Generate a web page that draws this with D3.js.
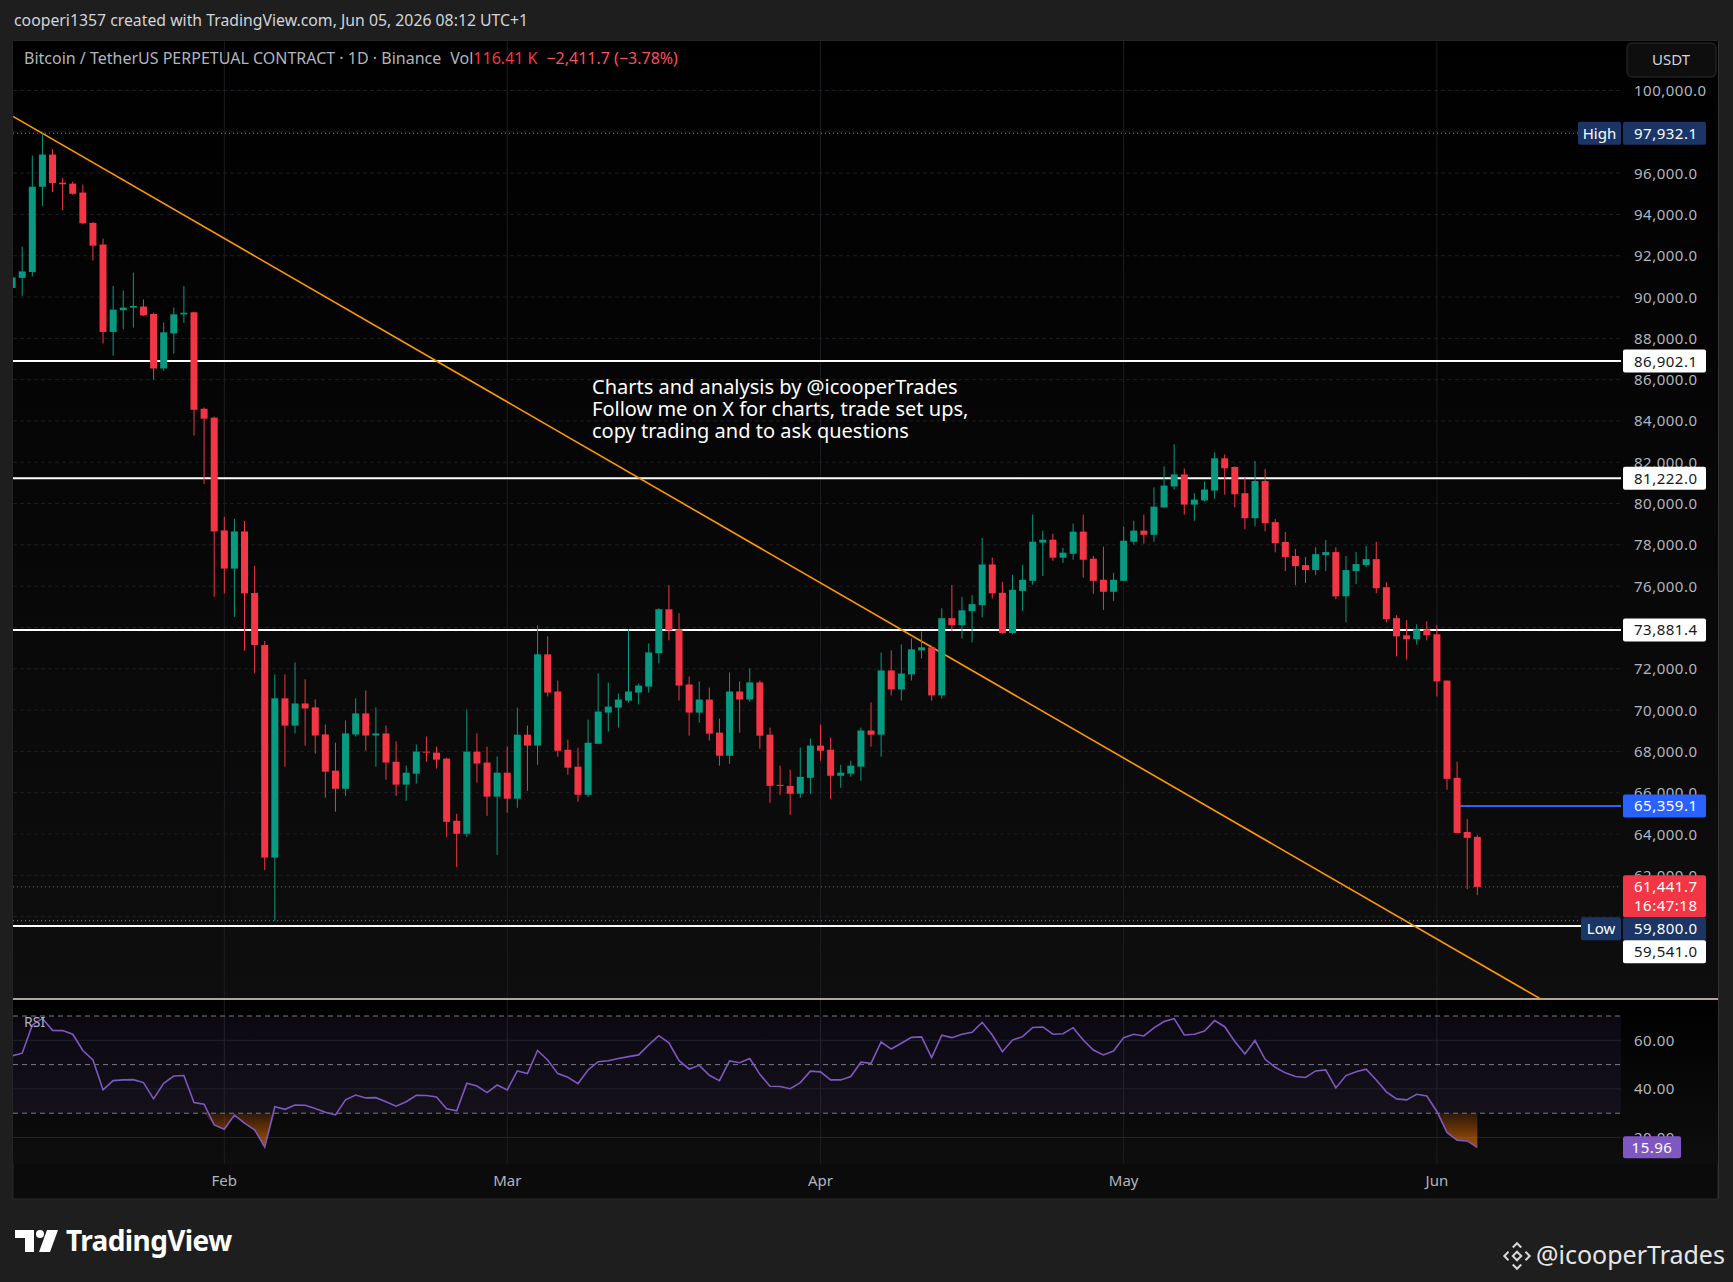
<!DOCTYPE html>
<html>
<head>
<meta charset="utf-8">
<script src="https://cdn.jsdelivr.net/npm/d3@7"></script>
<style>
  html, body { margin: 0; padding: 0; background: #1e1e1e; }
  svg { display: block; font-family: "Noto Sans", Roboto, sans-serif; }
</style>
</head>
<body>
<div id="grafica"></div>
<script>
// --- Datos
const firstDay = '2026-01-11'
const lastDay = '2026-06-05'

const open = [90440,90930,91210,95340,96900,95540,95490,95060,93590,92540,
  88310,89360,89490,89540,89180,86540,88240,89160,89260,84590,
  84160,78700,76850,78650,75670,73150,62860,70570,69250,70320,
  70130,68820,67070,66190,68820,69840,68770,68870,67500,66390,
  66920,67990,67940,67650,64640,64010,67990,67460,65810,66970,
  65710,68810,68280,72700,70900,68080,67260,65900,68370,69880,
  70120,70460,70850,71140,72750,74880,73910,71240,69880,70510,
  68910,67790,70900,70510,71340,68810,66380,66330,65950,66720,
  68280,68080,66820,66920,67260,69010,68810,71920,71000,71730,
  72890,73040,70710,74450,74110,74790,75080,77050,75680,73730,
  75770,76260,78110,78250,77380,77570,78640,77330,76310,75730,
  76260,78150,78690,78490,79810,80830,81410,79950,80150,80630,
  82190,81770,80500,79290,81090,79100,78140,77460,77020,76780,
  77510,77650,75510,76730,77020,77310,75950,74450,73620,73430,
  73910,73670,71430,66720,64100,63860]

const high = [91030,92440,96850,97932.1,97160,95770,95590,95440,93620,92830,
  90540,90310,91180,89880,89240,88770,89490,90540,89290,84650,
  84210,79360,79260,79160,76980,73350,71730,71730,72310,71490,
  70520,69300,68430,69500,70570,70950,70130,69250,68480,67310,
  68330,68720,68230,67700,64980,70030,68870,68230,67750,68230,
  70120,69250,74110,73570,71430,68570,68180,69540,71770,71340,
  70800,73910,71290,73230,74930,76050,74690,71630,71390,71090,
  69590,71820,71390,72020,71430,69150,67310,67110,68180,68620,
  69300,68670,67350,67550,69150,70370,72790,72890,73180,73470,
  73810,73130,74930,76050,75470,75560,78330,77380,76210,76550,
  77040,79470,78690,78540,77860,79030,79470,77470,77910,76650,
  78880,79170,79470,80780,81800,82870,81700,80490,81070,82480,
  82380,81800,81260,82060,81670,79250,78620,77800,77410,77890,
  78230,77890,77460,77650,77940,78140,76190,74590,74350,74150,
  74300,74110,71430,67500,64730,63950]

const low = [90370,90060,91000,94410,95080,94210,94950,93520,91770,87750,
  87160,88440,88520,89080,86000,86440,87260,88750,83290,80950,
  75490,75650,74520,72880,71800,62260,59800,67260,68870,68280,
  67890,65760,65080,65850,68720,68040,67260,66630,65850,65610,
  66440,67500,67170,63860,62400,63860,66490,64880,62990,65030,
  65270,66090,67350,70660,67740,66870,65560,65800,68370,68960,
  69150,70370,70270,70850,72260,73380,70460,68760,69390,68520,
  67310,67400,68910,70410,68130,65510,65900,64930,65750,65950,
  67550,65700,66240,66770,66580,68230,67740,70710,70460,71430,
  72500,70460,70560,73810,73470,73280,74490,75400,73690,73690,
  74800,76070,76500,77230,77130,77280,76410,75630,74850,75290,
  76260,78010,78060,78150,79810,80680,79470,79170,80100,80240,
  80440,79820,78750,78900,78660,77640,76730,76050,76150,76530,
  76730,75370,74250,76100,76920,75660,74250,72600,72450,73180,
  73380,70660,66140,64050,61330,61040]

const close = [90950,91240,95340,96900,95520,95460,95000,93570,92490,88310,
  89390,89490,89570,89110,86540,88290,89160,89240,84540,84110,
  78650,76850,78650,75650,73150,62860,70570,69250,70320,70080,
  68770,67020,66190,68870,69840,68770,68870,67460,66390,66970,
  67990,67940,67600,64590,64010,67990,67410,65810,66970,65710,
  68810,68280,72700,70850,68030,67210,65900,68420,69930,70170,
  70510,70900,71190,72790,74880,73860,71190,69880,70510,68860,
  67790,70900,70510,71340,68760,66330,66330,65950,66770,68280,
  68030,66820,66970,67310,69010,68810,71920,71000,71770,72940,
  73040,70710,74450,74110,74830,75130,77050,75650,73730,75820,
  76310,78150,78250,77380,77620,78640,77280,76260,75730,76310,
  78200,78690,78490,79850,80870,81410,79950,80190,80680,82190,
  81710,80450,79290,81090,79050,78080,77410,76970,76780,77550,
  77650,75510,76780,77070,77310,75900,74400,73570,73430,73910,
  73620,71390,66670,64050,63810,61441.7]

const rsi = [53.6,54.7,66.3,69.0,64.1,64.0,62.5,55.8,51.9,39.6,
  43.4,43.7,43.8,42.6,35.9,42.3,45.3,45.5,34.4,33.7,
  25.2,23.4,29.2,25.9,23.2,16.0,32.7,31.6,33.4,33.3,
  31.9,30.4,29.3,35.5,37.5,36.3,36.4,34.7,32.9,34.7,
  37.4,37.3,36.7,31.8,31.0,42.3,41.2,38.5,41.6,39.6,
  47.4,46.3,55.8,51.9,46.3,44.8,42.2,47.8,51.2,51.6,
  52.5,53.3,54.0,58.1,61.9,59.0,51.6,48.2,49.7,45.6,
  43.4,51.5,50.8,52.5,46.0,41.1,41.0,40.1,42.6,47.3,
  47.0,43.7,43.7,45.1,51.0,50.5,59.3,56.4,58.8,61.2,
  61.4,52.9,62.1,61.1,62.5,63.3,67.4,62.2,55.3,60.1,
  61.5,65.3,65.5,62.5,62.7,65.2,60.1,56.0,54.0,55.6,
  61.1,62.5,61.8,65.1,67.7,68.9,62.2,62.5,63.8,68.1,
  65.6,59.5,54.4,59.9,52.2,48.9,46.6,45.1,44.7,47.4,
  47.8,40.4,45.5,47.1,48.1,43.7,38.8,35.9,35.5,37.8,
  37.1,30.7,22.1,18.9,18.6,15.96]

const priceTicks = [60000,62000,64000,66000,68000,70000,72000,74000,76000,78000,
  80000,82000,84000,86000,88000,90000,92000,94000,96000,98000,100000]
// labels that TradingView hides under the price tags
const hiddenTicks = [60000, 74000, 98000]
const rsiTicks = [20, 40, 60]
const rsiBands = [30, 50, 70]
const monthTicks = ['2026-02-01', '2026-03-01', '2026-04-01', '2026-05-01', '2026-06-01']
const monthNames = ['Feb', 'Mar', 'Apr', 'May', 'Jun']

const levels = [86902.1, 81222.0, 73881.4, 59541.0]
const highPrice = 97932.1
const lowPrice = 59800.0
const lastPrice = 61441.7
const countdown = '16:47:18'
const rayDate = '2026-06-03'
const rayPrice = 65359.1
const trendDates = ['2026-02-22T00:00:00Z', '2026-05-29T19:00:00Z']
const trendPrices = [86902.1, 59541.0]
const rsiLast = 15.96

const noteLines = ['Charts and analysis by @icooperTrades',
  'Follow me on X for charts, trade set ups,',
  'copy trading and to ask questions']

// --- Layout
const W = 1733, H = 1282
const paneL = 13, paneR = 1621, axisR = 1718
const mainT = 41, mainB = 999, rsiB = 1164, chartB = 1199
const DAY = 86400000
const feb1 = Date.UTC(2026, 1, 1)
const pxDay = 10.105

const days = d3.utcDay.range(new Date(firstDay + 'T00:00:00Z'),
  d3.utcDay.offset(new Date(lastDay + 'T00:00:00Z'), 1))
const bars = days.map((d, i) => ({ date: d, o: open[i], h: high[i], l: low[i], c: close[i], r: rsi[i] }))

const x = d3.scaleUtc()
  .domain([new Date(feb1 - (224.3 - paneL) / pxDay * DAY), new Date(feb1 + (paneR - 224.3) / pxDay * DAY)])
  .range([paneL, paneR])
const y = d3.scaleLinear().domain([56011, 102397]).range([mainB, mainT])
const yr = d3.scaleLinear().domain([9.1, 77]).range([rsiB, mainB])

const GREEN = '#089981', RED = '#f23645', AXIS = '#b2b5be', GRID = '#1d1d24'
const fmt = d3.format(',.1f')

const svg = d3.select('#grafica')
  .append('svg')
  .attr('width', W)
  .attr('height', H)

const defs = svg.append('defs')
const bg = defs.append('linearGradient').attr('id', 'bgMain').attr('x1', 0).attr('x2', 0).attr('y1', 0).attr('y2', 1)
bg.append('stop').attr('offset', '0%').attr('stop-color', '#000000')
bg.append('stop').attr('offset', '100%').attr('stop-color', '#0e0e0e')
const os = defs.append('linearGradient').attr('id', 'oversold')
  .attr('gradientUnits', 'userSpaceOnUse')
  .attr('x1', 0).attr('x2', 0)
  .attr('y1', yr(30)).attr('y2', yr(12))
os.append('stop').attr('offset', '0%').attr('stop-color', '#ff6d00').attr('stop-opacity', 0.15)
os.append('stop').attr('offset', '100%').attr('stop-color', '#ff8a00').attr('stop-opacity', 0.75)
defs.append('clipPath').attr('id', 'clipMain').append('rect')
  .attr('x', paneL).attr('y', mainT).attr('width', paneR - paneL).attr('height', mainB - mainT)
defs.append('clipPath').attr('id', 'clipRsi').append('rect')
  .attr('x', paneL).attr('y', mainB).attr('width', paneR - paneL).attr('height', rsiB - mainB)

// fondo
svg.append('rect').attr('width', W).attr('height', H).attr('fill', '#1e1e1e')
svg.append('rect').attr('x', paneL).attr('y', mainT).attr('width', axisR - paneL).attr('height', chartB - mainT)
  .attr('fill', '#0b0b0b').attr('stroke', '#2b2b2b')
svg.append('rect').attr('x', paneL).attr('y', mainT).attr('width', axisR - paneL).attr('height', mainB - mainT)
  .attr('fill', 'url(#bgMain)')
svg.append('rect').attr('x', paneL).attr('y', mainB).attr('width', axisR - paneL).attr('height', rsiB - mainB)
  .attr('fill', 'url(#bgMain)')
svg.append('rect').attr('x', axisR).attr('y', mainT).attr('width', 1).attr('height', chartB - mainT).attr('fill', '#333')

// header
svg.append('text').attr('x', 14).attr('y', 26).attr('fill', '#d1d4dc').attr('font-size', 15.8)
  .text('cooperi1357 created with TradingView.com, Jun 05, 2026 08:12 UTC+1')

// grid
const gridG = svg.append('g')
gridG.selectAll('line.h')
  .data(priceTicks)
  .enter()
  .append('line')
  .attr('x1', paneL).attr('x2', paneR)
  .attr('y1', d => y(d)).attr('y2', d => y(d))
  .attr('stroke', GRID).attr('stroke-dasharray', '4,3')
gridG.selectAll('line.v')
  .data(monthTicks)
  .enter()
  .append('line')
  .attr('x1', d => x(new Date(d + 'T00:00:00Z'))).attr('x2', d => x(new Date(d + 'T00:00:00Z')))
  .attr('y1', mainT).attr('y2', rsiB)
  .attr('stroke', GRID)

// RSI pane
const rsiG = svg.append('g').attr('clip-path', 'url(#clipRsi)')
rsiG.append('rect').attr('x', paneL).attr('width', paneR - paneL)
  .attr('y', yr(70)).attr('height', yr(30) - yr(70))
  .attr('fill', 'rgba(126,87,194,0.09)')
rsiG.selectAll('line.g')
  .data(rsiTicks)
  .enter()
  .append('line')
  .attr('x1', paneL).attr('x2', paneR)
  .attr('y1', d => yr(d)).attr('y2', d => yr(d))
  .attr('stroke', '#24222e')
rsiG.selectAll('line.b')
  .data(rsiBands)
  .enter()
  .append('line')
  .attr('x1', paneL).attr('x2', paneR)
  .attr('y1', d => yr(d)).attr('y2', d => yr(d))
  .attr('stroke', '#787b86').attr('stroke-dasharray', '5,4')
rsiG.append('path')
  .datum(bars)
  .attr('fill', 'url(#oversold)')
  .attr('d', d3.area().x(d => x(d.date)).y0(yr(30)).y1(d => yr(Math.min(d.r, 30))))
rsiG.append('path')
  .datum(bars)
  .attr('fill', 'none').attr('stroke', '#7e57c2').attr('stroke-width', 1.6)
  .attr('d', d3.line().x(d => x(d.date)).y(d => yr(d.r)))
svg.append('text').attr('x', 24).attr('y', 1027).attr('fill', AXIS).attr('font-size', 14).text('RSI')

// separador
svg.append('line').attr('x1', paneL).attr('x2', axisR).attr('y1', mainB).attr('y2', mainB)
  .attr('stroke', '#f3d7cd').attr('stroke-width', 1.5)

// precio
const mainG = svg.append('g').attr('clip-path', 'url(#clipMain)')
mainG.selectAll('line.dot')
  .data([highPrice, lowPrice])
  .enter()
  .append('line')
  .attr('x1', paneL).attr('x2', paneR)
  .attr('y1', d => y(d)).attr('y2', d => y(d))
  .attr('stroke', '#8a8a8a').attr('stroke-dasharray', '1,3')
mainG.append('line')
  .attr('x1', paneL).attr('x2', paneR)
  .attr('y1', y(lastPrice)).attr('y2', y(lastPrice))
  .attr('stroke', RED).attr('stroke-dasharray', '1,3')
mainG.selectAll('line.level')
  .data(levels)
  .enter()
  .append('line')
  .attr('x1', paneL).attr('x2', paneR)
  .attr('y1', d => y(d)).attr('y2', d => y(d))
  .attr('stroke', '#ffffff').attr('stroke-width', 2)
mainG.append('line')
  .attr('x1', x(new Date(rayDate + 'T00:00:00Z'))).attr('x2', paneR)
  .attr('y1', y(rayPrice)).attr('y2', y(rayPrice))
  .attr('stroke', '#2962ff').attr('stroke-width', 2)

// tendencia
const tp = trendDates.map((d, i) => [x(new Date(d)), y(trendPrices[i])])
const slope = (tp[1][1] - tp[0][1]) / (tp[1][0] - tp[0][0])
mainG.append('line')
  .attr('x1', paneL).attr('y1', tp[0][1] + (paneL - tp[0][0]) * slope)
  .attr('x2', paneR).attr('y2', tp[0][1] + (paneR - tp[0][0]) * slope)
  .attr('stroke', '#ff9800').attr('stroke-width', 1.6)

// velas
const candles = mainG.selectAll('g.candle')
  .data(bars)
  .enter()
  .append('g')
  .attr('fill', d => d.c >= d.o ? GREEN : RED)
  .attr('stroke', d => d.c >= d.o ? GREEN : RED)
candles.append('line')
  .attr('x1', d => x(d.date)).attr('x2', d => x(d.date))
  .attr('y1', d => y(d.h)).attr('y2', d => y(d.l))
  .attr('stroke-width', 1)
candles.append('rect')
  .attr('x', d => x(d.date) - 3.5)
  .attr('width', 7)
  .attr('y', d => y(Math.max(d.o, d.c)))
  .attr('height', d => Math.max(1, Math.abs(y(d.o) - y(d.c))))
  .attr('stroke', 'none')

// nota
svg.append('g')
  .selectAll('text')
  .data(noteLines)
  .enter()
  .append('text')
  .attr('x', 592)
  .attr('y', (d, i) => 394 + i * 22)
  .attr('fill', '#ffffff')
  .attr('font-size', 20)
  .text(d => d)

// titulo
const title = svg.append('text').attr('x', 24).attr('y', 64).attr('font-size', 16)
title.append('tspan').attr('fill', AXIS).text('Bitcoin / TetherUS PERPETUAL CONTRACT · 1D · Binance')
title.append('tspan').attr('fill', AXIS).attr('dx', 9).text('Vol')
title.append('tspan').attr('fill', RED).text('116.41 K')
title.append('tspan').attr('fill', '#f7525f').attr('dx', 9).text('−2,411.7 (−3.78%)')

// eje de precios
svg.append('g')
  .selectAll('text')
  .data(priceTicks.filter(d => !hiddenTicks.includes(d)))
  .enter()
  .append('text')
  .attr('x', 1634)
  .attr('y', d => y(d) + 5.5)
  .attr('fill', AXIS)
  .attr('font-size', 15)
  .attr('letter-spacing', 0.5)
  .text(d => fmt(d))

const usdt = svg.append('g')
usdt.append('rect').attr('x', 1627).attr('y', 43).attr('width', 89).attr('height', 34).attr('rx', 5)
  .attr('fill', '#0e0e0e').attr('stroke', '#2f2f2f')
usdt.append('text').attr('x', 1671).attr('y', 65).attr('text-anchor', 'middle')
  .attr('fill', '#d1d4dc').attr('font-size', 15).text('USDT')

// etiquetas
const tags = [
  { p: highPrice, text: fmt(highPrice), fill: '#1b3567', color: '#ffffff', tag: 'High' },
  ...levels.map(p => ({ p, text: fmt(p), fill: '#ffffff', color: '#131722' })),
  { p: rayPrice, text: fmt(rayPrice), fill: '#2962ff', color: '#ffffff' },
  { p: lastPrice, text: fmt(lastPrice), fill: RED, color: '#ffffff', sub: countdown },
  { p: lowPrice, text: fmt(lowPrice), fill: '#1b3567', color: '#ffffff', tag: 'Low' }
].sort((a, b) => y(a.p) - y(b.p))
let prevBottom = 0
tags.forEach(t => {
  const h = t.sub ? 42 : 23
  t.top = Math.max(y(t.p) - 11.5, prevBottom)
  t.h = h
  prevBottom = t.top + h
})
const tagG = svg.append('g')
  .selectAll('g')
  .data(tags)
  .enter()
  .append('g')
tagG.append('rect')
  .attr('x', 1623).attr('y', d => d.top).attr('width', 83).attr('height', d => d.h).attr('rx', 2)
  .attr('fill', d => d.fill)
tagG.append('text')
  .attr('x', 1634).attr('y', d => d.top + 17)
  .attr('fill', d => d.color).attr('font-size', 15).attr('letter-spacing', 0.5)
  .text(d => d.text)
tagG.filter(d => d.sub).append('text')
  .attr('x', 1634).attr('y', d => d.top + 36)
  .attr('fill', '#ffffff').attr('font-size', 15).attr('letter-spacing', 0.5)
  .text(d => d.sub)
tagG.filter(d => d.tag).append('rect')
  .attr('x', d => d.tag === 'High' ? 1578 : 1581).attr('y', d => d.top)
  .attr('width', d => d.tag === 'High' ? 43 : 40).attr('height', d => d.h).attr('rx', 2)
  .attr('fill', d => d.fill)
tagG.filter(d => d.tag).append('text')
  .attr('x', d => d.tag === 'High' ? 1599.5 : 1601).attr('y', d => d.top + 17)
  .attr('text-anchor', 'middle').attr('fill', '#ffffff').attr('font-size', 15)
  .text(d => d.tag)

// eje RSI
svg.append('g')
  .selectAll('text')
  .data(rsiTicks)
  .enter()
  .append('text')
  .attr('x', 1634)
  .attr('y', d => yr(d) + 5.5)
  .attr('fill', AXIS)
  .attr('font-size', 15)
  .attr('letter-spacing', 0.5)
  .text(d => d3.format('.2f')(d))
svg.append('rect').attr('x', 1623).attr('y', yr(rsiLast) - 11).attr('width', 58).attr('height', 22).attr('rx', 2)
  .attr('fill', '#7e57c2')
svg.append('text').attr('x', 1652).attr('y', yr(rsiLast) + 5.5).attr('text-anchor', 'middle')
  .attr('fill', '#ffffff').attr('font-size', 15).attr('letter-spacing', 0.5).text(d3.format('.2f')(rsiLast))

// eje de tiempo
svg.append('g')
  .selectAll('text')
  .data(monthTicks)
  .enter()
  .append('text')
  .attr('x', d => x(new Date(d + 'T00:00:00Z')))
  .attr('y', 1186)
  .attr('text-anchor', 'middle')
  .attr('fill', AXIS)
  .attr('font-size', 15)
  .text((d, i) => monthNames[i])

// pie
const logo = svg.append('g').attr('fill', '#ffffff')
logo.append('path').attr('d', 'M15,1230 H34 V1252 H25 V1238 H15 Z')
logo.append('circle').attr('cx', 40).attr('cy', 1234).attr('r', 4)
logo.append('path').attr('d', 'M47,1230 H58 L50,1252 H39 Z')
svg.append('text').attr('x', 66).attr('y', 1251).attr('fill', '#ffffff')
  .attr('font-size', 28).attr('font-weight', 700).attr('letter-spacing', -0.6).text('TradingView')

const bn = svg.append('g').attr('fill', 'none').attr('stroke', '#d8d8d8').attr('stroke-width', 2)
  .attr('transform', 'translate(1517,1256) rotate(45)')
bn.append('rect').attr('x', -3).attr('y', -3).attr('width', 6).attr('height', 6)
bn.append('path').attr('d', 'M-9,-3 V-9 H-3 M3,-9 H9 V-3 M9,3 V9 H3 M-3,9 H-9 V3')
svg.append('text').attr('x', 1536).attr('y', 1264).attr('fill', '#e6e6e6')
  .attr('font-size', 25).text('@icooperTrades')
</script>
</body>
</html>
